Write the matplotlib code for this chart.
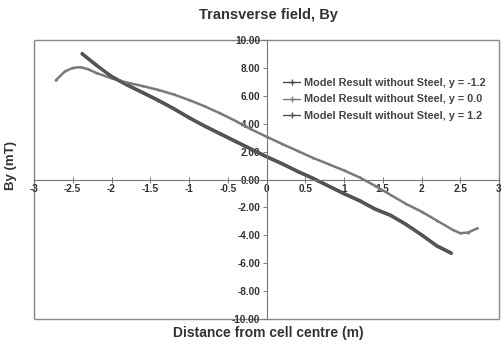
import matplotlib
matplotlib.use("Agg")
import matplotlib.pyplot as plt
from matplotlib.patches import Rectangle

plt.rcParams['font.family'] = ['Liberation Sans', 'DejaVu Sans']
plt.rcParams['font.weight'] = 'bold'

title = "Transverse field, By"
xlabel = "Distance from cell centre (m)"
ylabel = "By (mT)"

x_neg = [-2.38, -2.2, -2.0, -1.8, -1.6, -1.4, -1.2, -1.0, -0.8, -0.6, -0.4, -0.2,
         0.0, 0.2, 0.4, 0.6, 0.8, 1.0, 1.2, 1.4, 1.6, 1.8, 2.0, 2.2, 2.38]
y_neg = [9.0, 8.2, 7.4, 6.8, 6.25, 5.7, 5.1, 4.45, 3.85, 3.3, 2.75, 2.2,
         1.65, 1.15, 0.6, 0.1, -0.45, -1.0, -1.5, -2.1, -2.55, -3.2, -3.95, -4.75, -5.25]

x_mid = [-2.72, -2.6, -2.5, -2.4, -2.3, -2.2, -2.0, -1.8, -1.6, -1.4, -1.2, -1.0,
         -0.8, -0.6, -0.4, -0.2, 0.0, 0.2, 0.4, 0.6, 0.8, 1.0, 1.2, 1.4, 1.6,
         1.8, 2.0, 2.2, 2.4, 2.5, 2.6, 2.72]
y_mid = [7.1, 7.75, 8.0, 8.05, 7.9, 7.65, 7.25, 6.95, 6.7, 6.43, 6.1, 5.7,
         5.25, 4.75, 4.2, 3.6, 3.07, 2.55, 2.05, 1.55, 1.1, 0.65, 0.15, -0.45, -1.1,
         -1.75, -2.3, -2.95, -3.6, -3.85, -3.8, -3.5]

x_pos = [-2.38, -2.2, -2.0, -1.8, -1.6, -1.4, -1.2, -1.0, -0.8, -0.6, -0.4, -0.2,
         0.0, 0.2, 0.4, 0.6, 0.8, 1.0, 1.2, 1.4, 1.6, 1.8, 2.0, 2.2, 2.38]
y_pos = [9.05, 8.25, 7.35, 6.75, 6.2, 5.65, 5.05, 4.4, 3.8, 3.25, 2.7, 2.15,
         1.6, 1.1, 0.55, 0.05, -0.5, -1.05, -1.55, -2.15, -2.6, -3.25, -4.0, -4.8, -5.3]

labels = ["Model Result without Steel, y = -1.2",
          "Model Result without Steel, y = 0.0",
          "Model Result without Steel, y = 1.2"]

x_ticks = [-3, -2.5, -2, -1.5, -1, -0.5, 0, 0.5, 1, 1.5, 2, 2.5, 3]
x_ticklabels = ["-3", "-2.5", "-2", "-1.5", "-1", "-0.5", "0", "0.5", "1", "1.5", "2", "2.5", "3"]
y_ticks = [10, 8, 6, 4, 2, 0, -2, -4, -6, -8, -10]
y_ticklabels = ["10.00", "8.00", "6.00", "4.00", "2.00", "0.00", "-2.00", "-4.00", "-6.00", "-8.00", "-10.00"]

left_px, right_px, top_px, bot_px = 34, 499, 40, 319
fig = plt.figure(figsize=(5.04, 3.44), dpi=100)
ax = fig.add_axes([left_px/504, 1 - bot_px/344, (right_px-left_px)/504, (bot_px-top_px)/344])

ax.plot(x_neg, y_neg, color='#4a4a4a', lw=2.3, marker='+', ms=2, label=labels[0], solid_capstyle='round')
ax.plot(x_mid, y_mid, color='#7a7a7a', lw=1.8, marker='+', ms=2, label=labels[1], solid_capstyle='round')
ax.plot(x_pos, y_pos, color='#555555', lw=2.0, marker='+', ms=2, label=labels[2], solid_capstyle='round')

ax.set_xlim(-3, 3)
ax.set_ylim(-10, 10)

for s in ['top', 'right']:
    ax.spines[s].set_visible(False)
ax.spines['left'].set_position(('data', 0))
ax.spines['bottom'].set_position(('data', 0))
for s in ['left', 'bottom']:
    ax.spines[s].set_color('#777777')
    ax.spines[s].set_linewidth(0.8)

ax.add_patch(Rectangle((0, 0), 1, 1, transform=ax.transAxes, fill=False,
                       edgecolor='#888888', lw=1.0, clip_on=False))

ax.set_xticks(x_ticks)
ax.set_xticklabels(x_ticklabels)
ax.set_yticks(y_ticks)
ax.set_yticklabels(y_ticklabels)
ax.tick_params(axis='both', labelsize=7.2, colors='#777777', labelcolor='#333333',
               length=3, width=0.7, pad=1.5)
ax.tick_params(axis='x', direction='inout', length=4)
for t in ax.get_xticklabels() + ax.get_yticklabels():
    t.set_fontweight('bold')

fig.text(268/504, 1 - 15/344, title, ha='center', va='center', fontsize=10.5, fontweight='bold', color='#333333')
fig.text(268/504, 1 - 333/344, xlabel, ha='center', va='center', fontsize=10, fontweight='bold', color='#333333')
fig.text(11/504, 1 - 165/344, ylabel, ha='center', va='center', rotation=90, fontsize=9.5, fontweight='bold', color='#333333')

leg = ax.legend(loc='upper left', bbox_to_anchor=((283 - left_px) / (right_px - left_px), 1 - (78 - top_px) / (bot_px - top_px)),
                bbox_transform=ax.transAxes,
                frameon=False, fontsize=7.8, handlelength=1.6, handletextpad=0.3,
                labelspacing=0.6, borderaxespad=0, borderpad=0)
for t in leg.get_texts():
    t.set_fontweight('bold')
    t.set_color('#444444')
for ln in leg.get_lines():
    ln.set_linewidth(1.0)
    ln.set_markersize(4)

fig.savefig("out.png", dpi=100)
